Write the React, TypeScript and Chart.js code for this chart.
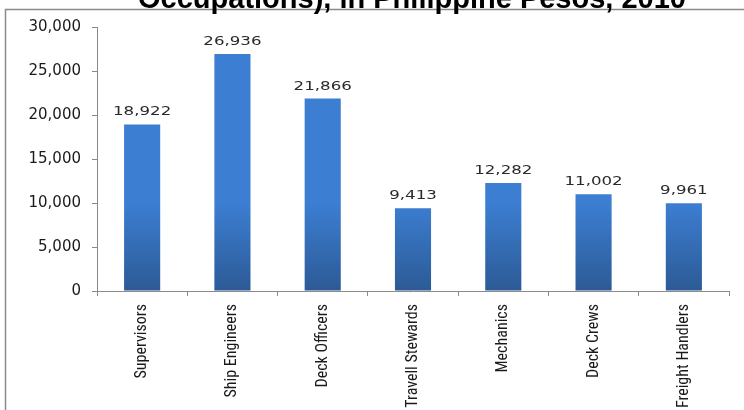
import React, { useEffect, useRef } from "react";
import { Chart, registerables } from "chart.js";

Chart.register(...registerables);

const categories = [
  "Supervisors",
  "Ship Engineers",
  "Deck Officers",
  "Travell Stewards",
  "Mechanics",
  "Deck Crews",
  "Freight Handlers",
];
const wages = [18922, 26936, 21866, 9413, 12282, 11002, 9961];
const yTicksMax = 30000;
const yTickStep = 5000;
const titleText = "Occupations), in Philippine Pesos, 2010";

const fmt = (v: number) => v.toLocaleString("en-US");

const framePlugin = {
  id: "frame",
  beforeDraw(chart: any) {
    const ctx = chart.ctx;
    ctx.save();
    ctx.strokeStyle = "#8a8a8a";
    ctx.lineWidth = 1.5;
    ctx.beginPath();
    ctx.moveTo(5.5, chart.height + 2);
    ctx.lineTo(5.5, 9.5);
    ctx.lineTo(chart.width + 2, 9.5);
    ctx.stroke();
    ctx.restore();
  },
  afterDraw(chart: any) {
    const ctx = chart.ctx;
    ctx.save();
    ctx.fillStyle = "#000";
    ctx.font = "bold 29px 'Liberation Sans', Arial, sans-serif";
    ctx.textAlign = "center";
    ctx.textBaseline = "alphabetic";
    ctx.fillText(titleText, 412, 7.5);
    ctx.restore();
  },
};

const gradientPlugin = {
  id: "barGradient",
  beforeDatasetsDraw(chart: any) {
    const ctx = chart.ctx;
    const meta = chart.getDatasetMeta(0);
    meta.data.forEach((bar: any) => {
      const g = ctx.createLinearGradient(0, bar.y, 0, bar.base);
      g.addColorStop(0, "#3c7ed2");
      g.addColorStop(1, "#2c5a96");
      bar.options.backgroundColor = g;
    });
  },
  afterDatasetsDraw(chart: any) {
    const ctx = chart.ctx;
    const meta = chart.getDatasetMeta(0);
    const data = chart.data.datasets[0].data;
    ctx.save();
    ctx.fillStyle = "#2a2a2a";
    ctx.font = "13px 'DejaVu Sans', Verdana, sans-serif";
    ctx.textAlign = "center";
    ctx.textBaseline = "alphabetic";
    meta.data.forEach((bar: any, i: number) => {
      ctx.save();
      ctx.translate(bar.x, bar.y - 9);
      ctx.scale(1.28, 1);
      ctx.fillText(fmt(data[i] as number), 0, 0);
      ctx.restore();
    });
    ctx.restore();
  },
};

export default function App() {
  const ref = useRef<HTMLCanvasElement>(null);
  useEffect(() => {
    if (!ref.current) return;
    const chart = new Chart(ref.current, {
      type: "bar",
      data: {
        labels: categories,
        datasets: [
          {
            data: wages,
            backgroundColor: "#3569b3",
            barPercentage: 0.4,
            categoryPercentage: 1,
          },
        ],
      },
      options: {
        animation: false,
        responsive: false,
        maintainAspectRatio: false,
        layout: { padding: { left: 0, top: 27, right: 15, bottom: 0 } },
        plugins: {
          legend: { display: false },
          title: { display: false },
          tooltip: { enabled: false },
        },
        scales: {
          x: {
            afterFit: (s: any) => {
              s.height = 119;
            },
            grid: {
              drawOnChartArea: false,
              drawTicks: true,
              tickLength: 5,
              color: "#8a8a8a",
              offset: true,
            },
            border: { display: true, color: "#8a8a8a", width: 1 },
            ticks: {
              maxRotation: 90,
              minRotation: 90,
              padding: 8,
              color: "#1a1a1a",
              font: {
                family: "'Liberation Sans Narrow', 'Roboto Condensed', Roboto, sans-serif",
                size: 16,
              },
            },
          },
          y: {
            min: 0,
            max: yTicksMax,
            afterFit: (s: any) => {
              s.width = 97;
            },
            grid: {
              drawOnChartArea: false,
              drawTicks: true,
              tickLength: 5,
              color: "#8a8a8a",
            },
            border: { display: true, color: "#8a8a8a", width: 1 },
            ticks: {
              stepSize: yTickStep,
              padding: 11,
              color: "#1a1a1a",
              font: { family: "'DejaVu Sans', Verdana, sans-serif", size: 15 },
              callback: (v: any) => fmt(Number(v)),
            },
          },
        },
      },
      plugins: [framePlugin, gradientPlugin],
    });
    return () => chart.destroy();
  }, []);
  return (
    <div style={{ position: "absolute", left: 0, top: 0, width: 744, height: 410, background: "#fff" }}>
      <canvas ref={ref} width={744} height={410} style={{ width: 744, height: 410 }} />
    </div>
  );
}
